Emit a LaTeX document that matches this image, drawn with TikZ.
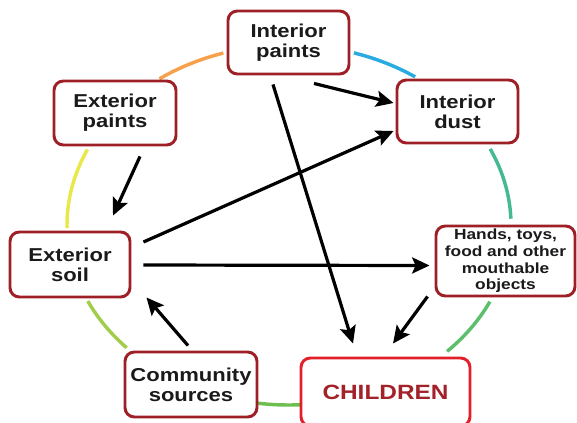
\documentclass[tikz,border=0pt]{standalone}
\usepackage{fontspec}
\setmainfont{Liberation Sans}
\newfontfamily\boxfont[FakeStretch=1.18]{Liberation Sans}
\usetikzlibrary{arrows.meta,calc}
\definecolor{boxred}{HTML}{9E1F25}
\definecolor{kidred}{HTML}{E3202A}
\definecolor{kidtext}{HTML}{A3222A}
\definecolor{textdark}{HTML}{1A1A1A}
\definecolor{ringorange}{HTML}{F7A14C}
\definecolor{ringblue}{HTML}{29ABE2}
\definecolor{ringteal}{HTML}{45B894}
\definecolor{ringgreen}{HTML}{5DBE6B}
\definecolor{ringgreenb}{HTML}{6CBF4E}
\definecolor{ringlime}{HTML}{A2CD4A}
\definecolor{ringyellow}{HTML}{E9E84B}
\begin{document}
\begin{tikzpicture}[x=0.75pt,y=-0.75pt,
  box/.style={draw=boxred, line width=2.2pt, rounded corners=7pt, fill=white,
    align=center, inner sep=0pt, text=textdark,
    font=\boxfont\bfseries\fontsize{14}{15}\selectfont},
  arr/.style={draw=black, line width=2.4pt,
    -{Stealth[length=13pt,width=12pt,inset=2.5pt]}},
  ring/.style={line width=2.6pt, smooth, line cap=butt}
]
\useasboundingbox (0,0) rectangle (577,422);
% ring segments (image angles, y down)
\draw[ring,ringorange] plot[domain=107.2:125.7,samples=25] ({289+222*cos(\x)},{225-180*sin(\x)});
\draw[ring,ringblue]   plot[domain=55.4:73,samples=25]     ({289+222*cos(\x)},{225-180*sin(\x)});
\draw[ring,ringteal]   plot[domain=2:25,samples=25]        ({289+222*cos(\x)},{225-180*sin(\x)});
\draw[ring,ringgreen]  plot[domain=-44.6:-25.2,samples=25] ({289+222*cos(\x)},{225-180*sin(\x)});
\draw[ring,ringgreenb] plot[domain=-99:-86,samples=25]     ({289+222*cos(\x)},{225-180*sin(\x)});
\draw[ring,ringlime]   plot[domain=-155:-137,samples=25]   ({289+222*cos(\x)},{225-180*sin(\x)});
\draw[ring,ringyellow] plot[domain=155.2:181,samples=25]   ({289+222*cos(\x)},{225-180*sin(\x)});
% boxes
\node[box, minimum width=90.75pt, minimum height=47.25pt] (IP) at (288.5,42.5) {Interior\\paints};
\node[box, minimum width=90.75pt, minimum height=47.25pt] (ID) at (457.5,111.5) {Interior\\dust};
\node[box, minimum width=91.5pt, minimum height=48pt] (EP) at (115,113) {Exterior\\paints};
\node[box, minimum width=90pt, minimum height=48.75pt] (ES) at (70,264.5) {Exterior\\soil};
\node[box, minimum width=104.25pt, minimum height=52.5pt,
  font=\boxfont\bfseries\fontsize{11}{12.5}\selectfont] (HT) at (505.5,261)
  {Hands, toys,\\food and other\\mouthable\\objects};
\node[box, draw=kidred, text=kidtext, minimum width=126.75pt, minimum height=51pt,
  font=\boxfont\bfseries\fontsize{15.5}{17}\selectfont] (CH) at (385.5,392) {CHILDREN};
\node[box, minimum width=99pt, minimum height=48.75pt] (CS) at (191,384.5) {Community\\sources};
% arrows
\draw[arr] ($(IP.south)+(25.5,8)$) -- ($(ID.west)+(-2,-8.5)$);
\draw[arr] ($(IP.south)+(-15.5,9)$) -- ($(CH.north)+(-32.5,-13)$);
\draw[arr] ($(EP.south)+(25,10)$) -- ($(ES.north)+(43,-15)$);
\draw[arr] ($(ES.east)+(12,-22.5)$) -- ($(ID.west)+(-2,19.5)$);
\draw[arr] ($(ES.east)+(12,0.5)$) -- ($(HT.west)+(-5,4.5)$);
\draw[arr] ($(HT.south west)+(-7,-1)$) -- ($(CH.north)+(7.5,-13)$);
\draw[arr] ($(CS.north)+(-3,-5)$) -- ($(ES.south east)+(15,-1)$);
\end{tikzpicture}
\end{document}
